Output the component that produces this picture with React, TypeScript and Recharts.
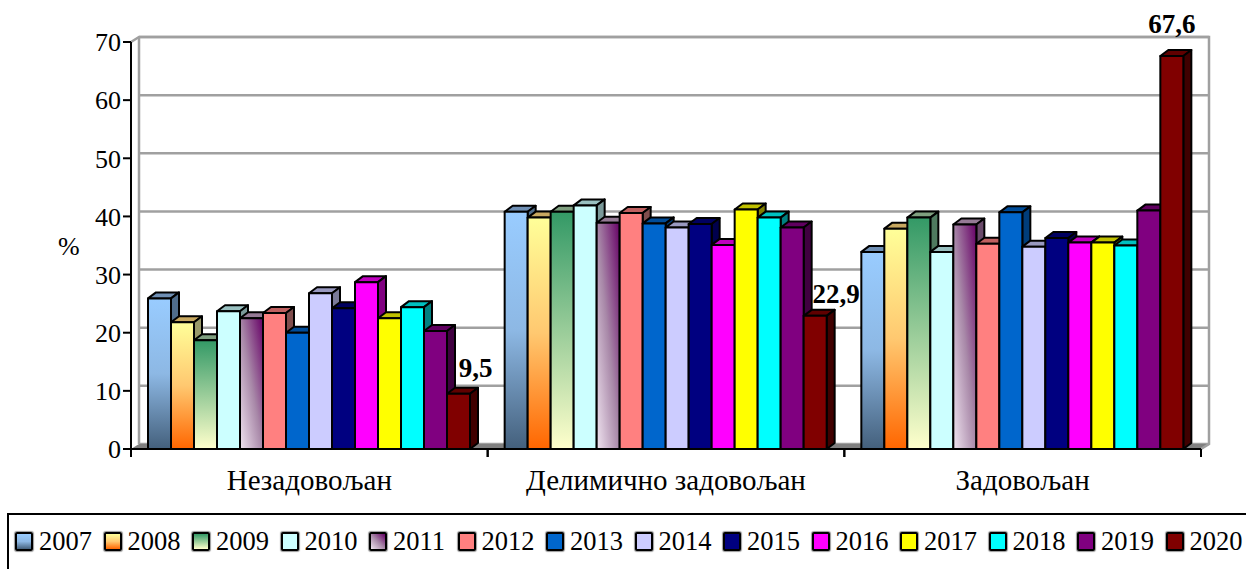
import { BarChart, Bar, XAxis, YAxis, CartesianGrid, LabelList, ReferenceArea } from 'recharts'

const years = ['2007', '2008', '2009', '2010', '2011', '2012', '2013', '2014', '2015', '2016', '2017', '2018', '2019', '2020']
const categories = ['Незадовољан', 'Делимично задовољан', 'Задовољан']
const nezadovoljan = [25.9, 21.8, 18.7, 23.7, 22.5, 23.4, 20, 26.8, 24.2, 28.7, 22.5, 24.4, 20.3, 9.5]
const delimicno = [40.8, 39.8, 40.8, 41.9, 38.9, 40.6, 38.8, 38.1, 38.7, 35.1, 41.2, 39.8, 38.1, 22.9]
const zadovoljan = [33.9, 37.9, 39.8, 33.9, 38.6, 35.3, 40.7, 34.8, 36.3, 35.5, 35.5, 35, 41, 67.6]
const yTicks = [0, 10, 20, 30, 40, 50, 60, 70]

// front face colours: gradient stops, or one flat colour
const fronts = [
  ['#99ccff', '#8db8e4', '#44607c'],
  ['#ffff99', '#ffc870', '#ff6600'],
  ['#339966', '#ffffcc'],
  ['#ccffff'],
  ['#660066', '#a888a8', '#f0e4f0'],
  ['#ff8080'],
  ['#0066cc'],
  ['#ccccff'],
  ['#000080'],
  ['#ff00ff'],
  ['#ffff00'],
  ['#00ffff'],
  ['#800080'],
  ['#800000'],
]
const tops = ['#6f8fb4', '#c8a860', '#7f9f7f', '#99c0c0', '#957a95', '#c06060', '#004c99', '#9999c0', '#000060', '#c000c0', '#c0c000', '#00c0c0', '#600060', '#600000']
const sides = ['#4f6d8c', '#99996a', '#4f7a5f', '#7a9999', '#6a4a6a', '#804d4d', '#003d7a', '#7a7a99', '#00004d', '#800080', '#808000', '#008080', '#400040', '#400000']

const rows = categories.map((name, c) => {
  const values = [nezadovoljan, delimicno, zadovoljan][c]
  const row: Record<string, string | number> = { name }
  years.forEach((y, i) => {
    row[y] = values[i]
  })
  return row
})

const DX = 8
const DY = 5
const BAND = 356.67
const FONT = '"Liberation Serif", serif'
const WALL = '#a0a0a0'

function Bar3D({ x, y, width, height, index }: any, s: number) {
  const dx = 8
  const dy = 6
  return (
    <g key={index} stroke="#000" strokeWidth={2} strokeLinejoin="round">
      <polygon points={`${x},${y} ${x + dx},${y - dy} ${x + width + dx},${y - dy} ${x + width},${y}`} fill={tops[s]} />
      <polygon points={`${x + width},${y} ${x + width + dx},${y - dy} ${x + width + dx},${y + height - dy} ${x + width},${y + height}`} fill={sides[s]} />
      <rect x={x} y={y} width={width} height={height} fill={fronts[s].length > 1 ? `url(#front${s})` : fronts[s][0]} />
    </g>
  )
}

function Walls({ x, y, width, height }: any) {
  const bottom = y + height
  const right = x + width
  return (
    <g>
      <polygon points={`${x},${bottom} ${x + DX},${bottom - DY} ${right + DX},${bottom - DY} ${right},${bottom}`} fill="#808080" />
      <polyline points={`${x},${y} ${x + DX},${y - DY} ${right + DX},${y - DY} ${right + DX},${bottom - DY} ${right},${bottom}`} fill="none" stroke={WALL} strokeWidth={2.5} />
      <line x1={x + DX} y1={y - DY} x2={x + DX} y2={bottom - DY} stroke={WALL} strokeWidth={2.5} />
    </g>
  )
}

function GridLine({ x1, y1, x2, y2 }: any) {
  return <line x1={x1 + DX} y1={y1 - DY} x2={x2 + DX} y2={y2 - DY} stroke={WALL} strokeWidth={2.5} />
}

function CategoryTick({ x, y, payload }: any) {
  return (
    <g>
      <line x1={x - BAND / 2} y1={y - 8} x2={x - BAND / 2} y2={y} stroke="#000" strokeWidth={2} />
      <line x1={x + BAND / 2} y1={y - 8} x2={x + BAND / 2} y2={y} stroke="#000" strokeWidth={2} />
      <text x={x} y={y + 33} textAnchor="middle" fontSize={29} fontFamily={FONT} fill="#000">
        {payload.value}
      </text>
    </g>
  )
}

// the three value labels do not sit centred over their bars in the original
const labelShift = [
  { x: 17, y: -17 },
  { x: 21, y: -13 },
  { x: 0, y: -23 },
]

function ValueLabel({ x, y, width, value, index }: any) {
  const shift = labelShift[index]
  return (
    <text x={x + width / 2 + shift.x} y={y + shift.y} textAnchor="middle" fontSize={27} fontWeight="bold" fontFamily={FONT} fill="#000">
      {String(value).replace('.', ',')}
    </text>
  )
}

function swatch(s: number) {
  const c = fronts[s]
  if (c.length === 1) return c[0]
  const dir = s === 4 ? '225deg' : '180deg'
  return `linear-gradient(${dir}, ${c.join(', ')})`
}

export default function App() {
  return (
    <div style={{ position: 'absolute', left: 0, top: 0, width: 1246, height: 569, overflow: 'hidden', background: '#fff' }}>
      <BarChart
        width={1246}
        height={569}
        data={rows}
        margin={{ top: 42, right: 45, bottom: 80, left: 0 }}
        barGap={0}
        barCategoryGap={17}
      >
        <defs>
          {fronts.map((c, s) =>
            c.length > 1 ? (
              <linearGradient key={s} id={`front${s}`} x1={s === 4 ? 1 : 0} y1={0} x2={0} y2={1}>
                {c.map((col, i) => (
                  <stop key={i} offset={i / (c.length - 1)} stopColor={col} />
                ))}
              </linearGradient>
            ) : null,
          )}
        </defs>
        <ReferenceArea y1={0} y2={70} shape={Walls} />
        <CartesianGrid vertical={false} horizontal={GridLine as any} />
        <XAxis
          dataKey="name"
          interval={0}
          height={40}
          tickLine={false}
          tick={CategoryTick}
          axisLine={{ stroke: '#000', strokeWidth: 2 }}
        />
        <YAxis
          width={131}
          domain={[0, 70]}
          ticks={yTicks}
          interval={0}
          tickSize={8}
          tickMargin={2}
          tick={{ fontSize: 26, fontFamily: FONT, fill: '#000' }}
          tickLine={{ stroke: '#000', strokeWidth: 2 }}
          axisLine={{ stroke: '#000', strokeWidth: 2 }}
          label={{ value: '%', position: 'insideLeft', offset: 58, fontSize: 26, fontFamily: FONT, fill: '#000' }}
        />
        {years.map((y, s) => (
          <Bar key={y} dataKey={y} isAnimationActive={false} shape={(p: any) => Bar3D(p, s)}>
            {s === years.length - 1 ? <LabelList dataKey={y} content={ValueLabel} /> : null}
          </Bar>
        ))}
      </BarChart>
      <div
        style={{
          position: 'absolute',
          left: 7,
          top: 513,
          width: 1260,
          height: 70,
          border: '2px solid #000',
          fontFamily: FONT,
          fontSize: 26.5,
          color: '#000',
        }}
      >
        {years.map((y, s) => (
          <div key={y} style={{ position: 'absolute', left: 6 + s * 88.5, top: 12, display: 'flex', alignItems: 'center', lineHeight: '29px' }}>
            <span
              style={{
                display: 'inline-block',
                boxSizing: 'border-box',
                width: 18,
                height: 19,
                marginRight: 6,
                border: '2px solid #000',
                borderRadius: 2,
                boxShadow: '0 0 1px 1px #999',
                background: swatch(s),
              }}
            />
            {y}
          </div>
        ))}
      </div>
    </div>
  )
}
